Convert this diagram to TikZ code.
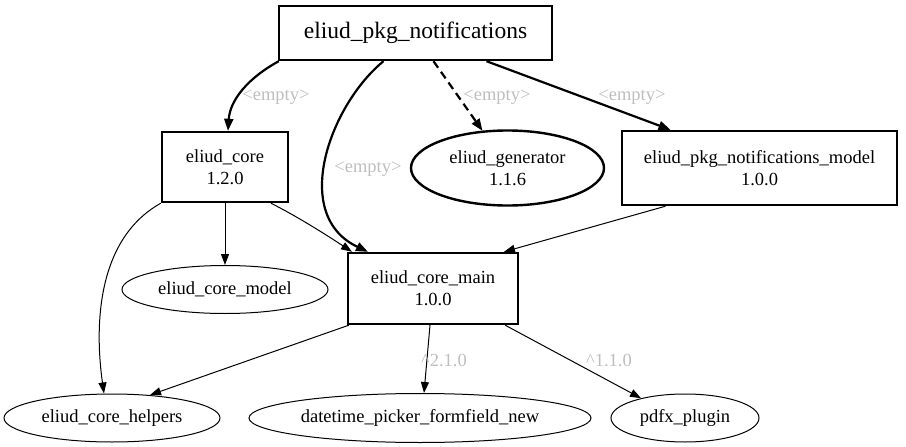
\documentclass[tikz,border=0pt]{standalone}
\usepackage{fontspec}
\setmainfont{Liberation Serif}
\usetikzlibrary{arrows.meta,shapes.geometric}
\definecolor{lblgray}{RGB}{190,190,190}
\tikzset{
  base/.style={font=\fontsize{18.5}{22}\selectfont, align=center, inner sep=0pt},
  boxthick/.style={base, draw, line width=2.4pt, rectangle},
  ellthin/.style={base, draw, line width=1pt, ellipse},
  ellthick/.style={base, draw, line width=2.4pt, ellipse},
  edgethick/.style={line width=2.2pt, -{Triangle[length=12pt,width=9pt]}},
  edgethin/.style={line width=1pt, -{Triangle[length=11pt,width=8pt]}},
  lbl/.style={font=\fontsize{18.5}{22}\selectfont, text=lblgray, inner sep=0pt}
}
\begin{document}
\begin{tikzpicture}[x=1pt,y=-1pt]
\useasboundingbox (0,0) rectangle (906,447);
% nodes
\node[boxthick, minimum width=273pt, minimum height=54pt, font=\fontsize{23.5}{26}\selectfont] (pkg) at (415.5,33) {eliud\_pkg\_notifications};
\node[boxthick, minimum width=126pt, minimum height=70pt] (core) at (225,167) {eliud\_core\\1.2.0};
\node[ellthick, minimum width=193pt, minimum height=75pt] (gen) at (507.5,168) {eliud\_generator\\1.1.6};
\node[boxthick, minimum width=275pt, minimum height=74pt] (pkgm) at (759.5,168) {eliud\_pkg\_notifications\_model\\1.0.0};
\node[ellthin, minimum width=206pt, minimum height=48pt] (coremodel) at (225,289.5) {eliud\_core\_model};
\node[boxthick, minimum width=170pt, minimum height=71pt] (main) at (433,288.5) {eliud\_core\_main\\1.0.0};
\node[ellthin, minimum width=216pt, minimum height=48pt] (helpers) at (112,418) {eliud\_core\_helpers};
\node[ellthin, minimum width=342pt, minimum height=49pt] (dt) at (420,418) {datetime\_picker\_formfield\_new};
\node[ellthin, minimum width=148pt, minimum height=48pt] (pdfx) at (685,418) {pdfx\_plugin};
% edges
\draw[edgethick] ([xshift=1pt]pkg.south west) .. controls (248,78) and (230,100) .. ([xshift=3pt]core.north);
\node[lbl] (l1) at (276,97) {<empty>};
\draw[edgethick] ([xshift=-32pt]pkg.south) .. controls (330,105) and (290,215) .. ([xshift=-65pt]main.north);
\node[lbl] (l2) at (368,169) {<empty>};
\draw[edgethick, dashed, dash pattern=on 8pt off 5pt] ([xshift=18pt]pkg.south) -- ([xshift=-25pt,yshift=-1.5pt]gen.north);
\node[lbl] (l3) at (497,97) {<empty>};
\draw[edgethick] ([xshift=71pt]pkg.south) -- ([xshift=-89pt]pkgm.north);
\node[lbl] (l4) at (632,97) {<empty>};
\draw[edgethin] (core.south) -- (coremodel.north);
\draw[edgethin] ([xshift=46pt]core.south) .. controls (300,218) and (328,236) .. ([xshift=-81pt]main.north);
\draw[edgethin] (core.south west) .. controls (95,240) and (95,330) .. ([xshift=-8pt]helpers.north);
\draw[edgethin] ([xshift=-94pt]pkgm.south) -- ([xshift=71pt]main.north);
\draw[edgethin] ([xshift=2pt]main.south west) -- ([xshift=38pt,yshift=-1.5pt]helpers.north);
\draw[edgethin] ([xshift=-3pt]main.south) -- ([xshift=4pt]dt.north);
\node[lbl] (l5) at (444,360) {\textasciicircum2.1.0};
\draw[edgethin] ([xshift=-14pt]main.south east) -- ([xshift=-44pt,yshift=-4.7pt]pdfx.north);
\node[lbl] (l6) at (609,360) {\textasciicircum1.1.0};
\end{tikzpicture}
\end{document}
